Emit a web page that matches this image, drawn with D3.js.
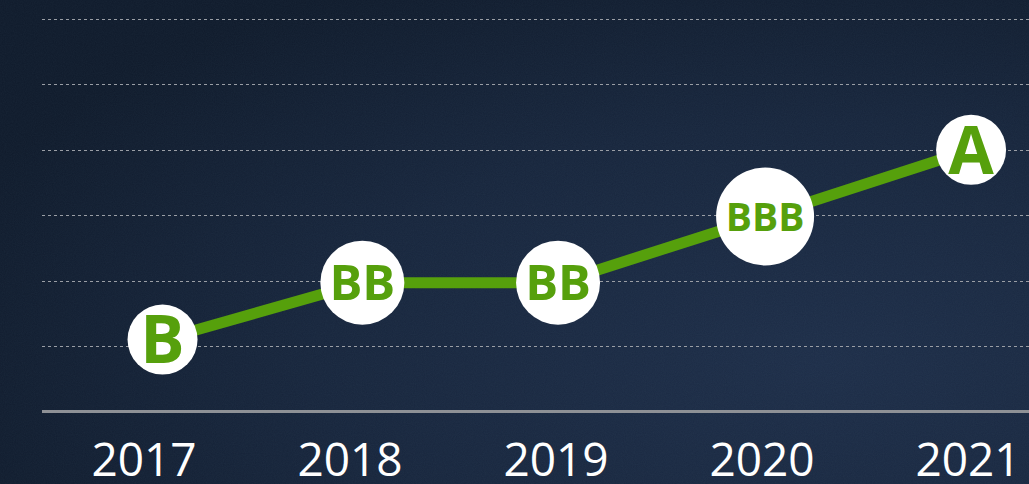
<!DOCTYPE html>
<html>
<head>
<meta charset="utf-8">
<script src="https://cdn.jsdelivr.net/npm/d3@7"></script>
<style>
  html, body { margin: 0; padding: 0; background: #16233a; overflow: hidden; }
  svg { display: block; }
</style>
</head>
<body>
<div id="chart"></div>
<script>
// data
const years = ["2017", "2018", "2019", "2020", "2021"];
const ratings = ["B", "BB", "BB", "BBB", "A"];
// rating level on the grid (0 = baseline, one gridline per notch)
const levels = [1.1, 1.97, 1.97, 2.98, 4.0];
// the markers sit a little off the year labels in the original
const pointYears = [2017.09, 2018.06, 2019.01, 2020.015, 2021.015];
const gridLevels = [1, 2, 3, 4, 5, 6];

const width = 1029, height = 484;
const margin = {top: 19, right: 0, bottom: 72, left: 42};

const svg = d3.select("#chart")
  .append("svg")
  .attr("width", width)
  .attr("height", height);

// background
const defs = svg.append("defs");
const bg = defs.append("radialGradient")
  .attr("id", "bg")
  .attr("cx", "80%").attr("cy", "75%").attr("r", "90%");
bg.append("stop").attr("offset", "0%").attr("stop-color", "#1d2d48");
bg.append("stop").attr("offset", "55%").attr("stop-color", "#17253c");
bg.append("stop").attr("offset", "100%").attr("stop-color", "#0f1a2b");

const noise = defs.append("filter").attr("id", "noise")
  .attr("x", 0).attr("y", 0).attr("width", "100%").attr("height", "100%");
noise.append("feTurbulence")
  .attr("type", "fractalNoise").attr("baseFrequency", 0.9)
  .attr("numOctaves", 2).attr("result", "n");
noise.append("feColorMatrix")
  .attr("type", "matrix")
  .attr("values", "0 0 0 0 0.3  0 0 0 0 0.5  0 0 0 0 0.6  0 0 0 0.06 0");

svg.append("rect").attr("width", width).attr("height", height).attr("fill", "url(#bg)");
svg.append("rect").attr("width", width).attr("height", height).attr("filter", "url(#noise)");

// scales
const x = d3.scaleLinear()
  .domain([2017, 2021])
  .range([144, 968]);

const y = d3.scaleLinear()
  .domain([0, 6])
  .range([height - margin.bottom - 0.5, margin.top]);

// dashed gridlines
svg.append("g")
  .selectAll("line")
  .data(gridLevels)
  .enter().append("line")
  .attr("x1", margin.left)
  .attr("x2", width)
  .attr("y1", d => Math.round(y(d)) + 0.5)
  .attr("y2", d => Math.round(y(d)) + 0.5)
  .attr("stroke", "#9a9ea5")
  .attr("stroke-width", 1)
  .attr("stroke-dasharray", "3,3");

// baseline
svg.append("line")
  .attr("x1", margin.left)
  .attr("x2", width)
  .attr("y1", y(0))
  .attr("y2", y(0))
  .attr("stroke", "#8e9196")
  .attr("stroke-width", 3);

// year labels
svg.append("g")
  .selectAll("text")
  .data(years)
  .enter().append("text")
  .attr("x", d => x(+d))
  .attr("y", 476)
  .attr("text-anchor", "middle")
  .attr("fill", "#ffffff")
  .style("font-family", "'Open Sans', sans-serif")
  .style("font-size", "46px")
  .text(d => d);

const points = ratings.map((r, i) => ({
  rating: r,
  x: x(pointYears[i]),
  y: y(levels[i])
}));

// green line
const line = d3.line().x(d => d.x).y(d => d.y);
svg.append("path")
  .datum(points)
  .attr("d", line)
  .attr("fill", "none")
  .attr("stroke", "#56a00c")
  .attr("stroke-width", 11);

// marker size and label size depend on the rating length
const radius = {1: 35, 2: 42, 3: 49};
const fontSize = {1: 66, 2: 49, 3: 39};

const marks = svg.append("g")
  .selectAll("g")
  .data(points)
  .enter().append("g")
  .attr("transform", d => "translate(" + d.x + "," + d.y + ")");

marks.append("circle")
  .attr("r", d => radius[d.rating.length])
  .attr("fill", "#ffffff");

marks.append("text")
  .attr("text-anchor", "middle")
  .attr("dy", "0.36em")
  .attr("fill", "#56a00c")
  .style("font-family", "'Open Sans', sans-serif")
  .style("font-weight", "bold")
  .style("font-size", d => fontSize[d.rating.length] + "px")
  .text(d => d.rating);
</script>
</body>
</html>
